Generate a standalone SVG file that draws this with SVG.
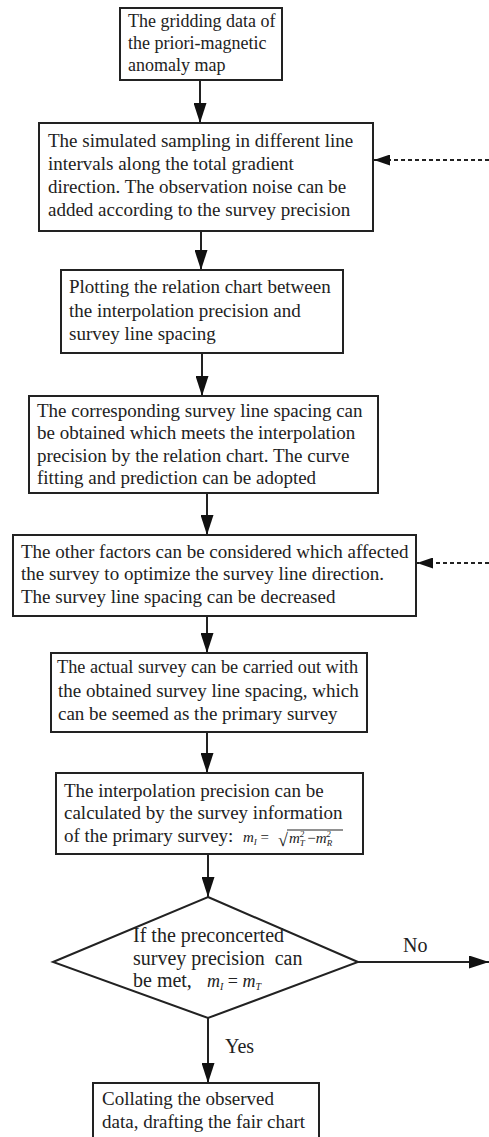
<svg xmlns="http://www.w3.org/2000/svg" width="489" height="1137" viewBox="0 0 489 1137">
<style>
.box{fill:#fff;stroke:#222;stroke-width:2}
.t{font-family:"Liberation Serif","Times New Roman",serif;font-size:19px;fill:#222}
.s{font-size:18px}
.d{font-size:20px}
.m{font-family:"Liberation Serif","Times New Roman",serif;font-style:italic;fill:#222}
.ln{stroke:#222;stroke-width:2;fill:none}
.dash{stroke:#222;stroke-width:2;fill:none;stroke-dasharray:4 3}
</style>
<defs>
<marker id="ah" markerWidth="20" markerHeight="13" refX="20" refY="6.5" orient="auto" markerUnits="userSpaceOnUse" viewBox="0 0 20 13">
<path d="M0,0 L20,6.5 L0,13 Z" fill="#111"/>
</marker>
<marker id="ahs" markerWidth="16" markerHeight="11" refX="16" refY="5.5" orient="auto" markerUnits="userSpaceOnUse" viewBox="0 0 16 11">
<path d="M0,0 L16,5.5 L0,11 Z" fill="#111"/>
</marker>
</defs>
<g id="connectors">
<line class="ln" x1="200" y1="80" x2="200" y2="123" marker-end="url(#ah)"/>
<line class="dash" x1="489" y1="160" x2="374" y2="160" marker-end="url(#ahs)"/>
<line class="ln" x1="201" y1="231" x2="201" y2="270" marker-end="url(#ah)"/>
<line class="ln" x1="202" y1="353" x2="202" y2="396" marker-end="url(#ah)"/>
<line class="ln" x1="207" y1="493" x2="207" y2="535" marker-end="url(#ah)"/>
<line class="dash" x1="489" y1="563" x2="417" y2="563" marker-end="url(#ahs)"/>
<line class="ln" x1="207" y1="616" x2="207" y2="653" marker-end="url(#ah)"/>
<line class="ln" x1="207" y1="732" x2="207" y2="773" marker-end="url(#ah)"/>
<line class="ln" x1="208" y1="854" x2="208" y2="897" marker-end="url(#ah)"/>
<line class="ln" x1="358" y1="962" x2="489" y2="962" marker-end="url(#ah)"/>
<line class="ln" x1="208" y1="1018" x2="208" y2="1083" marker-end="url(#ah)"/>
<text class="t d" x="403" y="952">No</text>
<text class="t d" x="225" y="1053">Yes</text>
</g>
<g id="n1">
<rect class="box" x="120" y="8" width="162" height="72"/>
<text class="t s" x="128" y="27">The gridding data of</text>
<text class="t s" x="128" y="49">the priori-magnetic</text>
<text class="t s" x="128" y="71">anomaly map</text>
</g>
<g id="n2">
<rect class="box" x="39" y="123" width="334" height="108"/>
<text class="t" x="48" y="147">The simulated sampling in different line</text>
<text class="t" x="48" y="170">intervals along the total gradient</text>
<text class="t" x="48" y="193">direction. The observation noise can be</text>
<text class="t" x="48" y="216">added according to the survey precision</text>
</g>
<g id="n3">
<rect class="box" x="61" y="270" width="282" height="83"/>
<text class="t" x="69" y="293">Plotting the relation chart between</text>
<text class="t" x="69" y="317">the interpolation precision and</text>
<text class="t" x="69" y="340">survey line spacing</text>
</g>
<g id="n4">
<rect class="box" x="29" y="396" width="349" height="97"/>
<text class="t" x="37" y="417">The corresponding survey line spacing can</text>
<text class="t" x="37" y="439">be obtained which meets the interpolation</text>
<text class="t" x="37" y="462">precision by the relation chart. The curve</text>
<text class="t" x="37" y="484">fitting and prediction can be adopted</text>
</g>
<g id="n5">
<rect class="box" x="13" y="535" width="403" height="81"/>
<text class="t" x="21" y="558">The other factors can be considered which affected</text>
<text class="t" x="21" y="580">the survey to optimize the survey line direction.</text>
<text class="t" x="21" y="603">The survey line spacing can be decreased</text>
</g>
<g id="n6">
<rect class="box" x="51" y="653" width="316" height="79"/>
<text class="t" x="57" y="673" textLength="301" lengthAdjust="spacingAndGlyphs">The actual survey can be carried out with</text>
<text class="t" x="58" y="697">the obtained survey line spacing, which</text>
<text class="t" x="58" y="720">can be seemed as the primary survey</text>
</g>
<g id="n7">
<rect class="box" x="56" y="773" width="307" height="81"/>
<text class="t" x="64" y="797">The interpolation precision can be</text>
<text class="t" x="64" y="819">calculated by the survey information</text>
<text class="t" x="64" y="842">of the primary survey:</text>
<text class="m" x="243" y="842" font-size="15">m<tspan font-size="9" dy="3">I</tspan><tspan font-style="normal" dy="-3"> = </tspan></text>
<text class="m" x="278" y="846" font-size="18" font-style="normal">√</text>
<line x1="287" y1="830" x2="343" y2="830" stroke="#222" stroke-width="1"/>
<text class="m" x="289" y="843" font-size="15">m<tspan font-size="9" dy="3">T</tspan><tspan font-size="9" dx="-5" dy="-9">2</tspan><tspan font-style="normal" dx="3" dy="6">−</tspan>m<tspan font-size="9" dy="3">R</tspan><tspan font-size="9" dx="-6" dy="-9">2</tspan></text>
</g>
<g id="n8">
<polygon class="box" points="208,897 358,962 208,1018 53,962"/>
<text class="t d" x="133" y="942">If the preconcerted</text>
<text class="t d" x="133" y="965" xml:space="preserve">survey precision  can</text>
<text class="t d" x="133" y="987">be met,</text>
<text class="m" x="207" y="987" font-size="18">m<tspan font-size="10" dy="3">I</tspan><tspan font-style="normal" dy="-3"> = </tspan>m<tspan font-size="10" dy="3">T</tspan></text>
</g>
<g id="n9">
<rect class="box" x="93" y="1083" width="226" height="70"/>
<text class="t" x="102" y="1105">Collating the observed</text>
<text class="t" x="102" y="1128">data, drafting the fair chart</text>
</g>
</svg>
